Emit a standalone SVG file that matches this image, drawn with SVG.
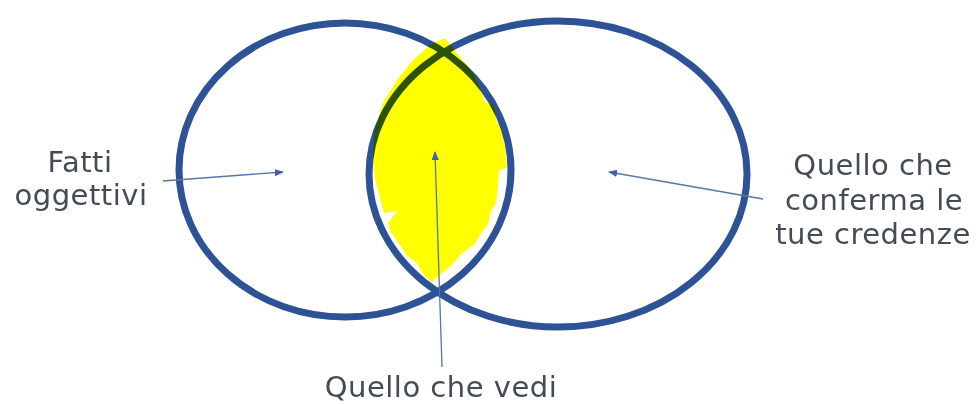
<svg xmlns="http://www.w3.org/2000/svg" width="978" height="404" viewBox="0 0 978 404">
  <defs>
    <style>
      .ring { fill: none; stroke: #2D5295; stroke-width: 7; }
      .lbl { font-family: "DejaVu Sans", "Open Sans", sans-serif; font-size: 29px; letter-spacing: 0.5px; fill: #434B57; text-anchor: middle; }
      .conn { stroke: #5876A8; stroke-width: 1.3; fill: none; marker-end: url(#ah); }
      .hl { fill: #FFFF00; mix-blend-mode: multiply; }
    </style>
    <marker id="ah" viewBox="0 0 10 10" refX="9" refY="5" markerWidth="9" markerHeight="9" markerUnits="userSpaceOnUse" orient="auto">
      <path d="M0,1 L10,5 L0,9 Z" fill="#3E63A8"/>
    </marker>
  </defs>
  <rect width="978" height="404" fill="#FFFFFF"/>
  <g id="fatti-oggettivi-circle">
    <ellipse class="ring" cx="345" cy="170" rx="166" ry="147"/>
  </g>
  <g id="credenze-circle">
    <ellipse class="ring" cx="558" cy="174" rx="189" ry="153"/>
  </g>
  <g id="intersection">
    <polygon class="hl" points="430,45 445,38 460,57 473,73 482,93 485,102 494,106 497,123 501,127 505,147 507,167 499,171 498,187 496,203 491,211 488,224 482,232 474,245 462,253 452,265 442,273 432,282 423,274 417,263 407,256 400,245 391,232 388,223 397,211 384,213 380,198 375,178 373,157 375,130 383,103 397,80 413,60"/>
  </g>
  <g id="connectors">
    <line class="conn" x1="163" y1="181" x2="283" y2="172"/>
    <line class="conn" x1="763" y1="199" x2="609" y2="172"/>
    <line class="conn" x1="442" y1="367" x2="435" y2="152"/>
  </g>
  <g id="label-fatti">
    <text class="lbl" x="80" y="172">Fatti</text>
    <text class="lbl" x="81" y="205">oggettivi</text>
  </g>
  <g id="label-conferma">
    <text class="lbl" x="873" y="175">Quello che</text>
    <text class="lbl" x="874" y="210">conferma le</text>
    <text class="lbl" x="873" y="244">tue credenze</text>
  </g>
  <g id="label-vedi">
    <text class="lbl" x="441" y="397">Quello che vedi</text>
  </g>
</svg>
